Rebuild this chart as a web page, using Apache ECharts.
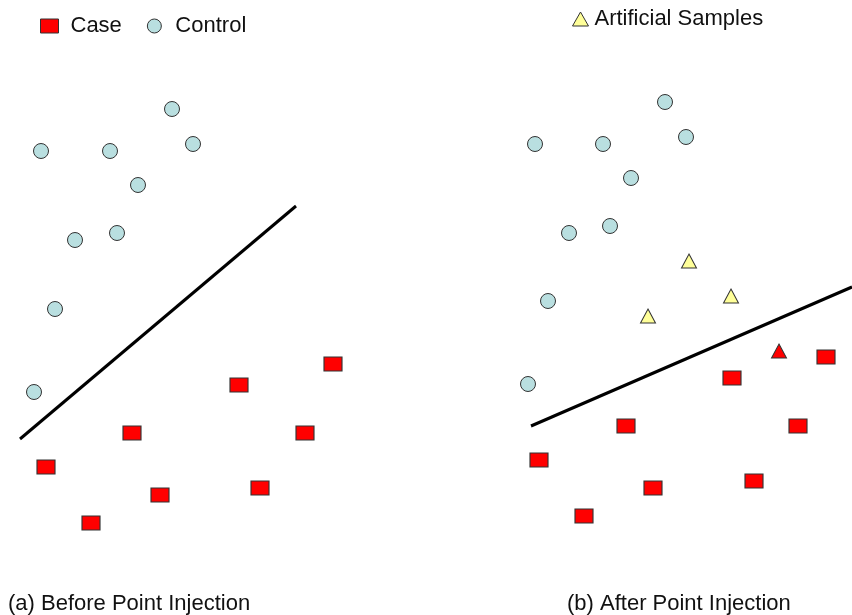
<!DOCTYPE html>
<html><head><meta charset="utf-8">
<script src="https://cdn.jsdelivr.net/npm/echarts@6/dist/echarts.min.js"></script>
<style>html,body{margin:0;padding:0;background:#fff}#c{width:852px;height:615px}</style>
</head><body><div id="c"></div>
<script>
// Panel (a): Before Point Injection
const controlA = [[41,151],[110,151],[172,109],[193,144],[138,185],[75,240],[117,233],[55,309],[34,392]];
const caseA = [[46,467],[91,523],[132,433],[160,495],[239,385],[260,488],[305,433],[333,364]];
const boundaryA = [[20,439],[296,206]];
// Panel (b): After Point Injection
const controlB = [[535,144],[603,144],[665,102],[686,137],[631,178],[569,233],[610,226],[548,301],[528,384]];
const caseB = [[539,460],[584,516],[626,426],[653,488],[732,378],[754,481],[798,426],[826,357]];
const artificialB = [[689,261],[731,296],[648,316]];
const artificialCaseB = [[779,351]];
const boundaryB = [[531,426],[852,287]];
const captions = ['(a) Before Point Injection','(b) After Point Injection'];

const FONT = 'Liberation Sans, Arial, Helvetica, sans-serif';
const caseStyle = {color:'#ff0000', borderColor:'#333', borderWidth:1, opacity:1};
const ctrlStyle = {color:'#b9dfe0', borderColor:'#333', borderWidth:1, opacity:1};
const artStyle = {color:'#ffff99', borderColor:'#333', borderWidth:1, opacity:1};

const chart = echarts.init(document.getElementById('c'), null, {renderer:'canvas'});
chart.setOption({
  animation:false,
  backgroundColor:'#fff',
  title:[
    {text:captions[0], left:3, top:588, textStyle:{fontFamily:FONT, fontSize:22, fontWeight:'normal', color:'#111'}},
    {text:captions[1], left:562, top:588, textStyle:{fontFamily:FONT, fontSize:22, fontWeight:'normal', color:'#111'}}
  ],
  legend:[
    {data:['Case','Control'], left:35, top:10, itemWidth:18, itemHeight:14, itemGap:25,
     itemStyle:{borderWidth:1, borderColor:'#333'},
     textStyle:{fontFamily:FONT, fontSize:22, color:'#111', padding:[0,0,0,7]}},
    {data:['Artificial Samples'], left:567, top:3, itemWidth:16, itemHeight:14,
     itemStyle:{borderWidth:1, borderColor:'#333'},
     textStyle:{fontFamily:FONT, fontSize:22, color:'#111', padding:[0,0,0,1]}}
  ],
  grid:{left:0, right:0, top:0, bottom:0},
  xAxis:{type:'value', min:0, max:852, show:false},
  yAxis:{type:'value', min:0, max:615, inverse:true, show:false},
  series:[
    {type:'line', data:boundaryA, symbol:'none', lineStyle:{color:'#000', width:3}, silent:true},
    {type:'line', data:boundaryB, symbol:'none', lineStyle:{color:'#000', width:3}, silent:true},
    {name:'Case', type:'scatter', data:caseA, symbol:'rect', symbolSize:[18,14], itemStyle:caseStyle},
    {name:'Control', type:'scatter', data:controlA, symbol:'circle', symbolSize:15, itemStyle:ctrlStyle},
    {name:'Case', type:'scatter', data:caseB, symbol:'rect', symbolSize:[18,14], itemStyle:caseStyle},
    {name:'Control', type:'scatter', data:controlB, symbol:'circle', symbolSize:15, itemStyle:ctrlStyle},
    {name:'Artificial Samples', type:'scatter', data:artificialB, symbol:'triangle', symbolSize:[15,14], itemStyle:artStyle},
    {name:'Artificial Case', type:'scatter', data:artificialCaseB, symbol:'triangle', symbolSize:[15,14], itemStyle:caseStyle}
  ]
});
</script></body></html>
